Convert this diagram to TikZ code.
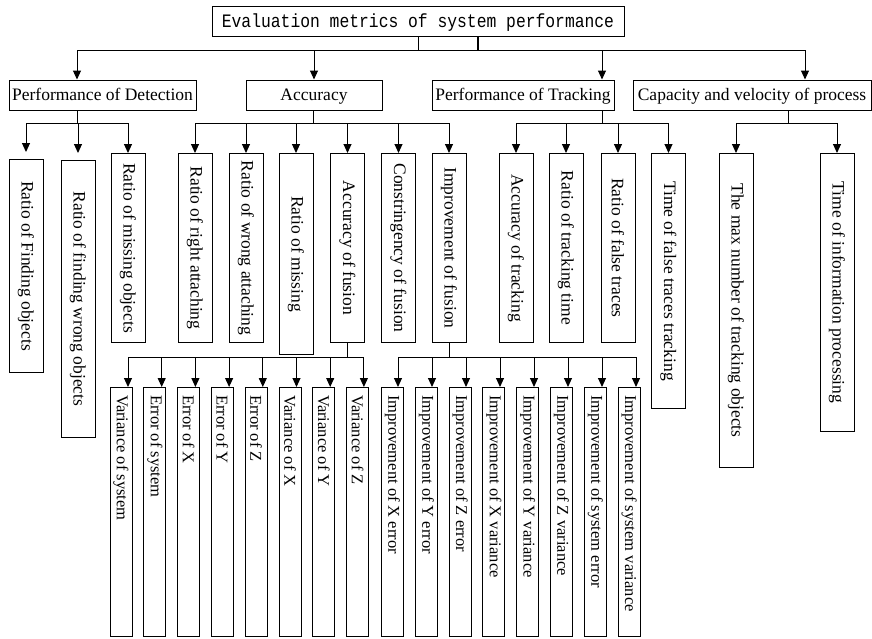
\documentclass[tikz,border=0pt]{standalone}
\usepackage{fontspec}
\usepackage{graphicx}
\newfontfamily\boxfont{Liberation Serif}
\newfontfamily\titlefont[FakeStretch=0.86]{Liberation Mono}
\usetikzlibrary{arrows.meta}

\tikzset{
  titlebox/.style={draw, line width=1pt, inner sep=0pt, minimum width=412pt, minimum height=30pt,
    text height=13pt, text depth=0pt, font=\titlefont\fontsize{19}{23}\selectfont},
  groupbox/.style={draw, line width=1pt, inner sep=0pt, minimum height=30pt,
    text height=13pt, text depth=3pt, font=\boxfont\fontsize{17.5}{21}\selectfont},
  itembox/.style={draw, line width=1pt, inner sep=0pt, minimum width=34pt, anchor=north,
    font=\boxfont\fontsize{17.5}{21}\selectfont},
  leafbox/.style={draw, line width=1pt, inner sep=0pt, minimum width=22pt, minimum height=249pt,
    anchor=north, font=\boxfont\fontsize{16.5}{20}\selectfont},
  link/.style={line width=1pt},
  arr/.style={line width=1pt, -{Triangle[width=8pt,length=9pt]}},
}
\newcommand{\vlabel}[1]{\rotatebox{-90}{#1}}

\begin{document}
\begin{tikzpicture}[x=1pt,y=-1pt]
    \useasboundingbox (0,0) rectangle (872,638);

    %% root and groups
    \node[titlebox] (eval) at (418,21) {Evaluation metrics of system performance};
    \node[groupbox, minimum width=187pt] (det) at (102.5,95) {Performance of Detection};
    \node[groupbox, minimum width=136pt] (acc) at (314,95) {Accuracy};
    \node[groupbox, minimum width=182pt] (trk) at (523,95) {Performance of Tracking};
    \node[groupbox, minimum width=238pt] (cap) at (752,95) {Capacity and velocity of process};

    \coordinate (topL) at (77,50);
    \coordinate (topR) at (805,50);
    \coordinate (topT) at (602,50);
    \coordinate (tick) at (478,50);
    \draw[link] (eval.south) -- (eval.south |- topL);
    \draw[line width=1.6pt] (tick |- eval.south) -- (tick);
    \draw[link] (topL) -- (topR);
    \draw[arr] (topL) -- (topL |- det.north);
    \draw[arr] (acc.north |- topL) -- (acc.north);
    \draw[arr] (topT) -- (topT |- trk.north);
    \draw[arr] (topR) -- (topR |- cap.north);

    %% second level
    \node[itembox, minimum height=213pt] (d1) at (26,159) {\vlabel{Ratio of Finding objects}};
    \node[itembox, minimum height=277pt] (d2) at (78,160) {\vlabel{Ratio of finding wrong objects}};
    \node[itembox, minimum height=189pt] (d3) at (128,153) {\vlabel{Ratio of missing objects}};

    \node[itembox, minimum height=189pt] (a1) at (195,153) {\vlabel{Ratio of right attaching}};
    \node[itembox, minimum height=189pt] (a2) at (246,153) {\vlabel{Ratio of wrong attaching}};
    \node[itembox, minimum height=201pt] (a3) at (296,153) {\vlabel{Ratio of missing}};
    \node[itembox, minimum height=189pt] (a4) at (347.5,153) {\vlabel{Accuracy of fusion}};
    \node[itembox, minimum height=189pt] (a5) at (398.5,153) {\vlabel{Constringency of fusion}};
    \node[itembox, minimum height=189pt] (a6) at (449,153) {\vlabel{Improvement of fusion}};

    \node[itembox, minimum height=189pt] (t1) at (516,153) {\vlabel{Accuracy of tracking}};
    \node[itembox, minimum height=189pt] (t2) at (566,153) {\vlabel{Ratio of tracking time}};
    \node[itembox, minimum height=189pt] (t3) at (618,153) {\vlabel{Ratio of false traces}};
    \node[itembox, minimum height=255pt] (t4) at (668.5,153) {\vlabel{Time of false traces tracking}};

    \node[itembox, minimum height=314pt] (c1) at (736,153) {\vlabel{The max number of tracking objects}};
    \node[itembox, minimum height=278pt] (c2) at (837,153) {\vlabel{Time of information processing}};

    \coordinate (dstem) at (77,123);
    \coordinate (astem) at (313,123);
    \coordinate (tstem) at (602,123);
    \coordinate (cstem) at (788,123);
    \draw[link] (dstem |- det.south) -- (dstem);
    \draw[link] (astem |- acc.south) -- (astem);
    \draw[link] (tstem |- trk.south) -- (tstem);
    \draw[link] (cstem |- cap.south) -- (cstem);
    \draw[link] (d1.north |- dstem) -- (d3.north |- dstem);
    \draw[link] (a1.north |- astem) -- (a6.north |- astem);
    \draw[link] (t1.north |- tstem) -- (t4.north |- tstem);
    \draw[link] (c1.north |- cstem) -- (c2.north |- cstem);
    \foreach \k in {d1,d2}
        \draw[arr, shorten >=7pt] (\k.north |- dstem) -- (\k.north);
    \draw[arr] (d3.north |- dstem) -- (d3.north);
    \foreach \k in {a1,a2,a3,a4,a5,a6}
        \draw[arr] (\k.north |- astem) -- (\k.north);
    \foreach \k in {t1,t2,t3,t4}
        \draw[arr] (\k.north |- tstem) -- (\k.north);
    \foreach \k in {c1,c2}
        \draw[arr] (\k.north |- cstem) -- (\k.north);

    %% third level
    \foreach \txt [count=\i from 0] in {Variance of system, Error of system, Error of X, Error of Y,
        Error of Z, Variance of X, Variance of Y, Variance of Z} {
        \coordinate (fa\i) at ({128+33.7*\i},357);
        \node[leafbox] (f\i) at ({121+33.8*\i},387) {\vlabel{\makebox[234pt][l]{\txt}}};
        \draw[arr] (fa\i) -- (fa\i |- f\i.north);
    }
    \draw[link] (a4.south) -- (a4.south |- fa0);
    \draw[link] (fa0) -- (fa7);

    \foreach \txt [count=\i from 0] in {Improvement of X error, Improvement of Y error,
        Improvement of Z error, Improvement of X variance, Improvement of Y variance,
        Improvement of Z variance, Improvement of system error, Improvement of system variance} {
        \coordinate (ia\i) at ({398+34*\i},357);
        \node[leafbox] (m\i) at ({392.5+33.8*\i},387) {\vlabel{\makebox[234pt][l]{\txt}}};
        \draw[arr] (ia\i) -- (ia\i |- m\i.north);
    }
    \draw[link] (a6.south) -- (a6.south |- ia0);
    \draw[link] (ia0) -- (ia7);

\end{tikzpicture}
\end{document}
